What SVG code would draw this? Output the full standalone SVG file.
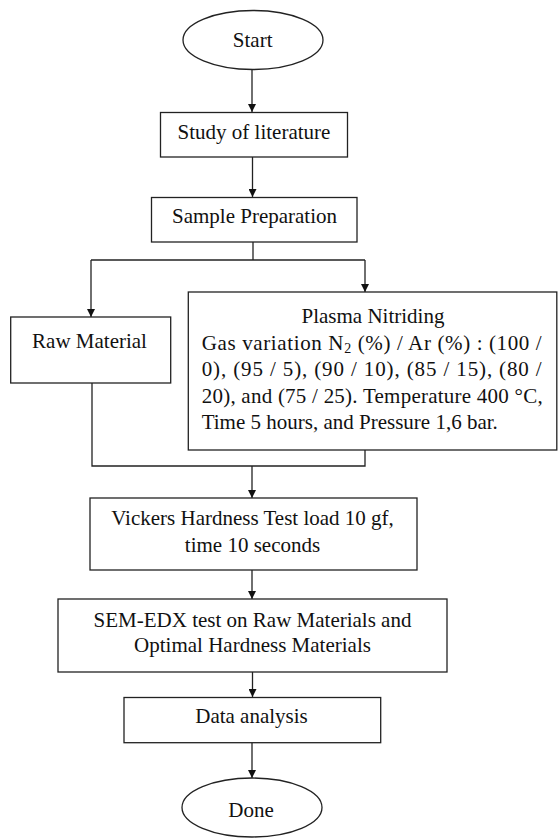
<svg xmlns="http://www.w3.org/2000/svg" width="558" height="838" viewBox="0 0 558 838">
<style>
.box{fill:#fff;stroke:#222;stroke-width:1.3}
.t{font-family:"Liberation Serif","Times New Roman",serif;font-size:21px;fill:#111}
.c{text-anchor:middle}
.ln{fill:none;stroke:#222;stroke-width:1.3}
</style>
<defs>
<marker id="ah" viewBox="0 0 10 10" refX="10" refY="5" markerWidth="8" markerHeight="8" markerUnits="userSpaceOnUse" orient="auto">
<path d="M0,0 L10,5 L0,10 Z" fill="#111"/>
</marker>
</defs>
<rect width="558" height="838" fill="#fff"/>
<g id="connectors">
<line class="ln" x1="252" y1="70" x2="252" y2="112" marker-end="url(#ah)"/>
<line class="ln" x1="252.5" y1="157" x2="252.5" y2="197" marker-end="url(#ah)"/>
<polyline class="ln" points="253,242 253,260"/>
<polyline class="ln" points="91,260 365,260"/>
<line class="ln" x1="91" y1="260" x2="91" y2="317" marker-end="url(#ah)"/>
<line class="ln" x1="365" y1="260" x2="365" y2="292" marker-end="url(#ah)"/>
<polyline class="ln" points="92,383 92,466 365,466 365,450"/>
<line class="ln" x1="252" y1="466" x2="252" y2="498" marker-end="url(#ah)"/>
<line class="ln" x1="252" y1="570" x2="252" y2="599" marker-end="url(#ah)"/>
<line class="ln" x1="252.5" y1="672" x2="252.5" y2="697" marker-end="url(#ah)"/>
<line class="ln" x1="252" y1="743" x2="252" y2="778" marker-end="url(#ah)"/>
</g>
<g id="start">
<ellipse class="box" cx="253" cy="40" rx="70" ry="29.5"/>
<text class="t c" x="252.7" y="47">Start</text>
</g>
<g id="study">
<rect class="box" x="160.5" y="112.5" width="187" height="44.5"/>
<text class="t c" x="254" y="138.5">Study of literature</text>
</g>
<g id="sample">
<rect class="box" x="151.5" y="197.5" width="205.5" height="44.5"/>
<text class="t c" x="254.5" y="223">Sample Preparation</text>
</g>
<g id="raw">
<rect class="box" x="10.7" y="317" width="160" height="66"/>
<text class="t c" x="89.5" y="348">Raw Material</text>
</g>
<g id="plasma">
<rect class="box" x="188.3" y="292" width="368.5" height="158"/>
<text class="t c" x="373" y="323">Plasma Nitriding</text>
<text class="t" x="201.7" y="349.5" textLength="340" lengthAdjust="spacing">Gas variation N<tspan font-size="14" dy="3">2</tspan><tspan dy="-3"> (%) / Ar (%) : (100 /</tspan></text>
<text class="t" x="201.7" y="376" textLength="340" lengthAdjust="spacing">0), (95 / 5), (90 / 10), (85 / 15), (80 /</text>
<text class="t" x="201.7" y="402.5" textLength="341" lengthAdjust="spacing">20), and (75 / 25). Temperature 400 °C,</text>
<text class="t" x="201.7" y="429">Time 5 hours, and Pressure 1,6 bar.</text>
</g>
<g id="vickers">
<rect class="box" x="90" y="498" width="327" height="72"/>
<text class="t c" x="252.5" y="525">Vickers Hardness Test load 10 gf,</text>
<text class="t c" x="252.5" y="551.7">time 10 seconds</text>
</g>
<g id="sem">
<rect class="box" x="58" y="599" width="389" height="73"/>
<text class="t c" x="252.5" y="626.7">SEM-EDX test on Raw Materials and</text>
<text class="t c" x="252.5" y="651.7">Optimal Hardness Materials</text>
</g>
<g id="data">
<rect class="box" x="124" y="697.5" width="256.7" height="45.2"/>
<text class="t c" x="251.5" y="723">Data analysis</text>
</g>
<g id="done">
<ellipse class="box" cx="252" cy="807.5" rx="70" ry="29.5"/>
<text class="t c" x="251" y="817">Done</text>
</g>
</svg>
